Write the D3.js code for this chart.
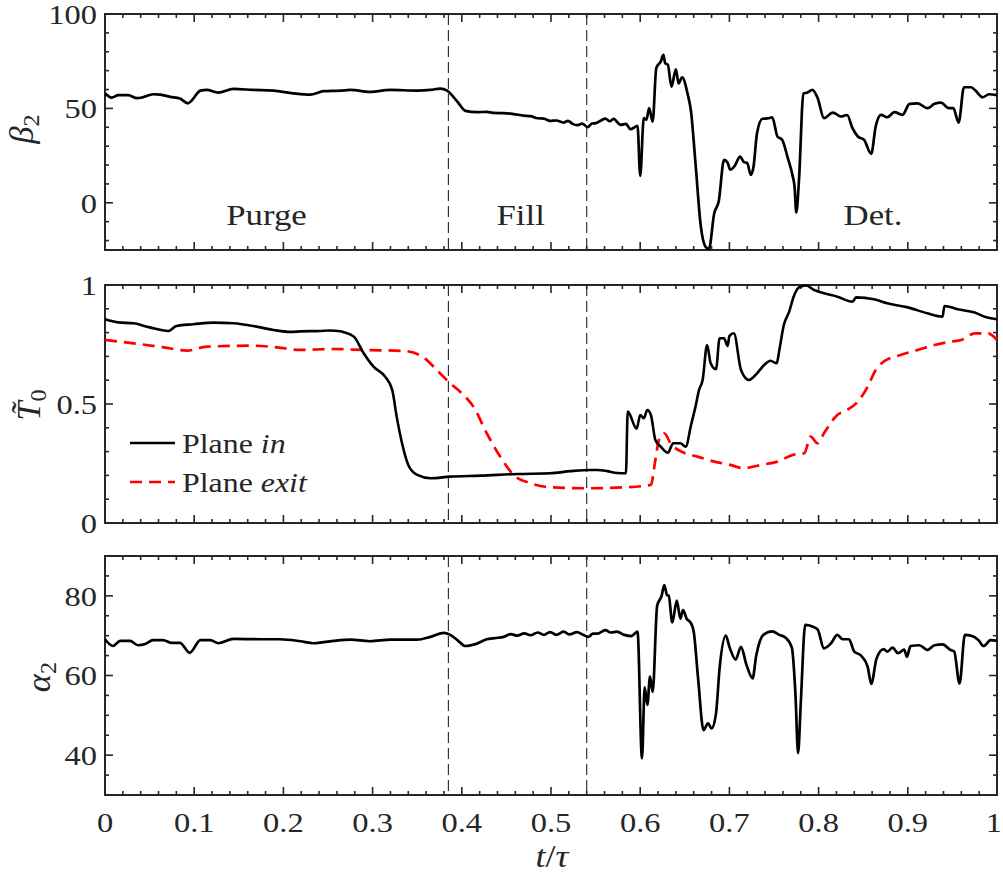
<!DOCTYPE html>
<html>
<head>
<meta charset="utf-8">
<script src="https://cdn.jsdelivr.net/npm/d3@7"></script>
<style>
  body { margin: 0; background: #fff; }
  svg text { font-family: "Liberation Serif", "Tinos", "Times New Roman", "DejaVu Serif", serif; fill: #262626; }
</style>
</head>
<body>
<svg id="fig" width="1003" height="876"></svg>
<script>
// ---- data ----
const beta2T = [0.000,0.0075,0.015,0.026,0.036,0.041,0.054,0.062,0.073,0.084,0.093,0.097,0.107,0.114,0.127,0.144,0.166,0.189,0.211,0.230,0.245,0.264,0.275,0.297,0.320,0.350,0.365,0.376,0.3835,0.395,0.404,0.417,0.428,0.436,0.447,0.458,0.469,0.477,0.485,0.492,0.499,0.506,0.514,0.519,0.524,0.529,0.535,0.541,0.546,0.550,0.556,0.561,0.566,0.570,0.578,0.584,0.589,0.597,0.600,0.604,0.607,0.610,0.614,0.618,0.623,0.626,0.628,0.631,0.635,0.640,0.643,0.647,0.653,0.657,0.662,0.668,0.673,0.677,0.683,0.688,0.694,0.698,0.701,0.706,0.712,0.716,0.720,0.724,0.727,0.731,0.737,0.743,0.748,0.754,0.759,0.765,0.771,0.773,0.775,0.778,0.783,0.787,0.793,0.799,0.806,0.816,0.825,0.832,0.838,0.844,0.851,0.859,0.864,0.870,0.877,0.885,0.894,0.902,0.911,0.922,0.930,0.937,0.946,0.951,0.957,0.963,0.971,0.976,0.984,0.991,1.000];
const beta2 = [58.0,55.7,57.0,57.0,55.4,55.7,57.5,57.3,56.1,55.2,52.7,54.1,59.4,59.8,58.4,60.3,59.8,59.4,58.0,57.3,59.1,59.4,59.8,58.7,59.8,59.4,59.8,60.5,59.4,53.6,48.7,48.0,48.2,47.6,47.5,47.0,46.2,45.9,44.8,44.6,43.4,43.6,42.5,43.4,41.9,41.1,41.9,40.1,42.0,42.2,43.6,44.6,43.2,44.4,41.3,41.8,39.0,40.7,14.3,44.8,44.0,50.1,43.0,71.3,74.8,78.3,73.9,73.2,61.5,70.7,63.3,66.5,58.0,48.3,20.9,-12.6,-23.1,-24.5,-5.5,0.7,22.7,21.2,17.5,19.6,24.5,21.7,21.0,14.8,19.0,37.0,44.5,44.7,45.2,35.0,33.5,24.5,14.0,8.7,-5.1,12.0,58.0,58.3,59.8,55.4,44.8,47.8,45.7,46.5,39.5,35.1,33.3,25.9,40.4,46.6,45.3,48.0,46.6,52.4,52.7,50.1,52.4,53.1,50.1,50.1,42.5,61.2,61.2,59.4,55.9,57.5,57.0];

const tInT = [0.000,0.015,0.032,0.050,0.071,0.080,0.099,0.122,0.144,0.166,0.189,0.208,0.219,0.241,0.252,0.264,0.267,0.279,0.290,0.301,0.314,0.322,0.327,0.333,0.340,0.350,0.365,0.387,0.421,0.462,0.499,0.522,0.544,0.552,0.563,0.574,0.584,0.586,0.596,0.600,0.604,0.608,0.612,0.617,0.623,0.631,0.637,0.645,0.651,0.657,0.662,0.666,0.670,0.675,0.679,0.685,0.689,0.694,0.698,0.700,0.705,0.713,0.722,0.731,0.739,0.746,0.753,0.756,0.761,0.767,0.772,0.778,0.786,0.795,0.806,0.821,0.838,0.842,0.862,0.877,0.900,0.922,0.939,0.941,0.956,0.975,0.988,1.000];
const tIn = [0.856,0.843,0.839,0.822,0.807,0.828,0.835,0.842,0.839,0.828,0.811,0.803,0.805,0.807,0.809,0.806,0.803,0.783,0.713,0.657,0.615,0.559,0.447,0.335,0.244,0.202,0.188,0.195,0.199,0.206,0.209,0.218,0.223,0.223,0.218,0.210,0.209,0.468,0.396,0.454,0.440,0.475,0.454,0.349,0.321,0.295,0.335,0.335,0.321,0.412,0.489,0.559,0.601,0.748,0.671,0.646,0.776,0.776,0.744,0.785,0.797,0.643,0.601,0.629,0.664,0.682,0.671,0.727,0.832,0.888,0.951,0.990,0.998,0.979,0.965,0.951,0.930,0.948,0.940,0.923,0.906,0.881,0.867,0.912,0.898,0.884,0.864,0.856];

const tExitT = [0.000,0.032,0.066,0.092,0.114,0.166,0.193,0.219,0.256,0.290,0.335,0.357,0.372,0.385,0.400,0.413,0.428,0.443,0.458,0.477,0.499,0.541,0.582,0.612,0.617,0.621,0.627,0.634,0.649,0.664,0.683,0.701,0.716,0.735,0.754,0.771,0.784,0.791,0.799,0.806,0.821,0.832,0.844,0.855,0.864,0.873,0.892,0.911,0.930,0.948,0.960,0.975,0.990,1.000];
const tExit = [0.769,0.755,0.738,0.724,0.741,0.745,0.738,0.727,0.731,0.727,0.723,0.696,0.643,0.594,0.545,0.489,0.377,0.279,0.202,0.167,0.150,0.146,0.150,0.160,0.265,0.349,0.377,0.335,0.295,0.279,0.258,0.244,0.230,0.244,0.258,0.286,0.293,0.363,0.335,0.377,0.454,0.475,0.510,0.573,0.643,0.678,0.706,0.727,0.748,0.762,0.769,0.797,0.797,0.769];

const alpha2T = [0.000,0.009,0.017,0.028,0.037,0.045,0.054,0.065,0.075,0.084,0.095,0.107,0.118,0.127,0.144,0.174,0.196,0.219,0.234,0.256,0.275,0.297,0.320,0.350,0.365,0.380,0.387,0.395,0.404,0.417,0.428,0.437,0.447,0.455,0.462,0.470,0.477,0.485,0.492,0.499,0.506,0.514,0.521,0.529,0.536,0.542,0.547,0.552,0.561,0.567,0.574,0.582,0.590,0.597,0.602,0.605,0.608,0.611,0.614,0.619,0.624,0.627,0.630,0.632,0.636,0.641,0.645,0.648,0.652,0.657,0.660,0.665,0.671,0.676,0.680,0.685,0.689,0.696,0.700,0.707,0.713,0.719,0.726,0.730,0.738,0.748,0.756,0.763,0.770,0.774,0.777,0.780,0.785,0.793,0.799,0.806,0.814,0.821,0.827,0.834,0.840,0.847,0.855,0.859,0.865,0.873,0.877,0.883,0.889,0.896,0.899,0.903,0.913,0.922,0.930,0.939,0.948,0.952,0.958,0.964,0.972,0.979,0.985,0.993,1.000];
const alpha2 = [69.1,67.4,68.7,68.7,67.6,67.9,68.9,68.9,68.2,68.2,65.7,68.9,68.9,68.1,69.2,69.1,69.1,68.6,68.1,68.7,69.0,68.6,69.0,69.0,69.7,70.7,70.2,68.9,67.4,68.0,69.1,69.4,69.7,70.4,70.0,70.6,70.1,70.8,70.2,70.9,70.2,71.0,70.3,70.9,70.2,69.7,70.5,70.5,71.4,70.8,71.0,70.2,69.9,71.0,39.2,57.0,52.6,59.7,55.9,77.5,80.0,82.7,80.2,80.0,73.3,78.8,74.3,76.4,74.3,73.1,71.0,59.0,46.3,48.0,46.7,50.5,61.8,70.0,67.2,64.0,67.2,62.8,59.3,64.9,70.2,71.1,70.2,69.5,67.0,55.5,40.5,53.0,72.7,72.3,71.5,66.8,68.1,70.2,69.1,69.1,66.0,65.1,62.2,57.9,64.3,66.6,66.0,67.0,65.6,66.5,64.7,67.4,67.6,66.4,67.6,67.8,66.4,66.0,58.0,70.2,69.9,68.9,67.4,68.9,68.7];

const phaseBounds = [0.385, 0.540];
const phaseNames = ["Purge", "Fill", "Det."];
const xTickValues = [0, 0.1, 0.2, 0.3, 0.4, 0.5, 0.6, 0.7, 0.8, 0.9, 1];
const legendNames = ["in", "exit"];

// ---- layout ----
const W = 1003;
const svg = d3.select("#fig");
const AX = "#262626";
const SX = 1.16; // horizontal stretch of the serif lettering
const x = d3.scaleLinear().domain([0, 1]).range([105, 997]);

// place a text node at (px, py) with the wide lettering
const place = (px, py) => `translate(${px},${py}) scale(${SX},1)`;

const panels = [
  { key: "beta", domain: [-25, 100], range: [250, 14], majors: [0, 50, 100], minorStep: 10 },
  { key: "temp", domain: [0, 1], range: [523, 285], majors: [0, 0.5, 1], minorStep: 0.1 },
  { key: "alpha", domain: [30, 90], range: [795, 556], majors: [40, 60, 80], minorStep: 5 }
];

const xMinor = d3.range(0, 1.0001, 0.02).map(v => +v.toFixed(4));

function drawPanel(p, isBottom) {
  const y = d3.scaleLinear().domain(p.domain).range(p.range);
  p.y = y;
  const g = svg.append("g").attr("class", "panel-" + p.key);
  const [y0, y1] = p.range;
  const yMinor = d3.range(Math.ceil(p.domain[0] / p.minorStep) * p.minorStep, p.domain[1] + 1e-9, p.minorStep)
    .map(v => +v.toFixed(4));

  // phase boundaries
  g.selectAll("line.phase").data(phaseBounds).join("line")
    .attr("x1", d => x(d)).attr("x2", d => x(d))
    .attr("y1", y1).attr("y2", y0)
    .attr("stroke", "#333").attr("stroke-width", 1.2).attr("stroke-dasharray", "11,5");

  // ticks (inward, mirrored on all sides)
  const tk = g.append("g").attr("stroke", AX).attr("stroke-width", 1.6);
  const isMajX = v => xTickValues.some(m => Math.abs(m - v) < 1e-6);
  const isMajY = v => p.majors.some(m => Math.abs(m - v) < 1e-6);
  xMinor.forEach(v => {
    const L = isMajX(v) ? 8 : 4;
    tk.append("line").attr("x1", x(v)).attr("x2", x(v)).attr("y1", y0).attr("y2", y0 - L);
    tk.append("line").attr("x1", x(v)).attr("x2", x(v)).attr("y1", y1).attr("y2", y1 + L);
  });
  yMinor.forEach(v => {
    const L = isMajY(v) ? 8 : 4;
    tk.append("line").attr("y1", y(v)).attr("y2", y(v)).attr("x1", x(0)).attr("x2", x(0) + L);
    tk.append("line").attr("y1", y(v)).attr("y2", y(v)).attr("x1", x(1)).attr("x2", x(1) - L);
  });

  // frame
  g.append("rect").attr("x", x(0)).attr("y", y1).attr("width", x(1) - x(0)).attr("height", y0 - y1)
    .attr("fill", "none").attr("stroke", AX).attr("stroke-width", 2);

  // y tick labels
  g.selectAll("text.ytl").data(p.majors).join("text")
    .attr("transform", d => place(97, y(d))).attr("dy", "0.35em")
    .attr("text-anchor", "end").attr("font-size", 28).text(d => d);

  if (isBottom) {
    // the last label is kept inside the page edge
    g.selectAll("text.xtl").data(xTickValues).join("text")
      .attr("transform", d => d === 1 ? place(W - 1, 832) : place(x(d), 832))
      .attr("text-anchor", d => d === 1 ? "end" : "middle")
      .attr("font-size", 28).text(d => d);
  }
  return y;
}

panels.forEach((p, i) => drawPanel(p, i === panels.length - 1));

const lineGen = (xs, ys, y) => d3.line().curve(d3.curveMonotoneX)
  .x((d, i) => x(xs[i])).y((d, i) => y(ys[i]))(ys);

// curves
svg.append("path").attr("d", lineGen(beta2T, beta2, panels[0].y))
  .attr("fill", "none").attr("stroke", "#000").attr("stroke-width", 2.7).attr("stroke-linejoin", "round");
svg.append("path").attr("d", lineGen(tExitT, tExit, panels[1].y))
  .attr("fill", "none").attr("stroke", "#ff0000").attr("stroke-width", 2.7).attr("stroke-dasharray", "12,7");
svg.append("path").attr("d", lineGen(tInT, tIn, panels[1].y))
  .attr("fill", "none").attr("stroke", "#000").attr("stroke-width", 2.6).attr("stroke-linejoin", "round");
svg.append("path").attr("d", lineGen(alpha2T, alpha2, panels[2].y))
  .attr("fill", "none").attr("stroke", "#000").attr("stroke-width", 2.7).attr("stroke-linejoin", "round");

// phase names
const phaseX = [0.181, 0.466, 0.861];
svg.selectAll("text.phase").data(phaseNames).join("text")
  .attr("transform", (d, i) => place(x(phaseX[i]), 225))
  .attr("text-anchor", "middle").attr("font-size", 30).attr("fill", "#000").text(d => d);

// legend
const legY = [443, 482];
legendNames.forEach((name, i) => {
  svg.append("line").attr("x1", 130).attr("x2", 175).attr("y1", legY[i]).attr("y2", legY[i])
    .attr("stroke", i === 0 ? "#000" : "#ff0000").attr("stroke-width", 2.6)
    .attr("stroke-dasharray", i === 0 ? null : "12,7");
  const t = svg.append("text").attr("transform", place(182, legY[i] + 10))
    .attr("font-size", 27.5).attr("fill", "#000");
  t.append("tspan").text("Plane ");
  t.append("tspan").attr("font-style", "italic").text(name);
});

// axis labels
function yLabel(cx, cy, sym, sub) {
  const t = svg.append("text").attr("transform", `translate(${cx},${cy}) rotate(-90) scale(1.05,1)`)
    .attr("text-anchor", "middle").attr("font-size", 33);
  t.append("tspan").attr("font-style", "italic").text(sym);
  t.append("tspan").attr("font-size", 23).attr("dy", 6).text(sub);
}
yLabel(33, 129, "\u03B2", "2");
yLabel(40, 405, "T\u0303", "0");
yLabel(50, 677, "\u03B1", "2");

const xl = svg.append("text").attr("transform", place(552, 867)).attr("text-anchor", "middle").attr("font-size", 31);
xl.append("tspan").attr("font-style", "italic").text("t");
xl.append("tspan").text("/");
xl.append("tspan").attr("font-style", "italic").text("\u03C4");
</script>
</body>
</html>
